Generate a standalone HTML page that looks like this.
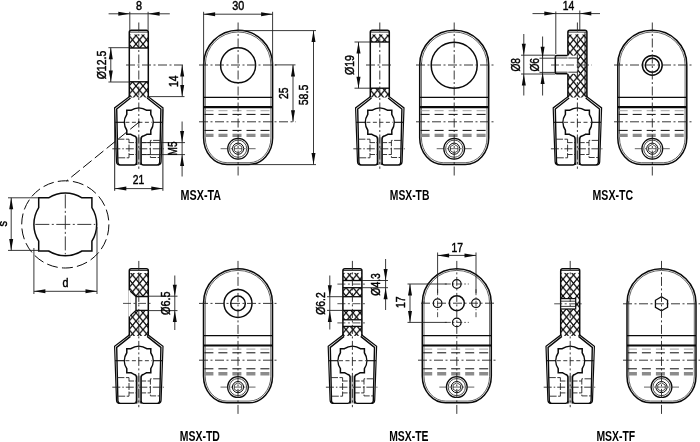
<!DOCTYPE html>
<html><head><meta charset="utf-8"><title>MSX-T</title>
<style>
html,body{margin:0;padding:0;background:#fff;}
svg{display:block;font-family:"Liberation Sans",sans-serif;fill:#000;filter:grayscale(1);}
svg text{fill:#000;}
</style></head>
<body>
<svg width="700" height="442" viewBox="0 0 700 442">
<rect width="700" height="442" fill="#fff"/>
<defs><pattern id="hx" width="7" height="8.4" patternUnits="userSpaceOnUse" patternTransform="translate(3 2)"><path d="M-1 -1.2 L8 9.6 M8 -1.2 L-1 9.6" stroke="#0a0a0a" stroke-width="1.3" fill="none"/></pattern></defs>
<rect x="129.30" y="34.50" width="19.00" height="13.50" fill="url(#hx)"/>
<rect x="129.30" y="81.80" width="19.00" height="15.70" fill="url(#hx)"/>
<path d="M129.3 97.2 L129.3 32.3 Q129.3 30.3 131.3 30.3 L146.3 30.3 Q148.3 30.3 148.3 32.3 L148.3 97.2" fill="none" stroke="#0a0a0a" stroke-width="1.5"/>
<line x1="129.30" y1="48.00" x2="148.30" y2="48.00" stroke="#0a0a0a" stroke-width="1.4"/>
<line x1="129.30" y1="81.80" x2="148.30" y2="81.80" stroke="#0a0a0a" stroke-width="1.4"/>
<line x1="129.30" y1="32.10" x2="148.30" y2="32.10" stroke="#0a0a0a" stroke-width="0.8"/>
<g transform="translate(138.80 122.30)">
<path d="M-9.5 -26.5 L-9.5 -25.6 L-24.2 -14.4 L-22.3 39.5 Q-22.1 42.7 -19.2 42.7" fill="none" stroke="#0a0a0a" stroke-width="1.2"/>
<path d="M9.5 -26.5 L9.5 -25.6 L24.2 -14.4 L22.3 39.5 Q22.1 42.7 19.2 42.7" fill="none" stroke="#0a0a0a" stroke-width="1.2"/>
<rect x="-2.3" y="15" width="4.6" height="27.7" fill="#b8b8b8"/>
<path d="M-2.3 42.7 L-2.3 16.6 Q-2.3 14.0 -5.10 13.47 L-5.10 13.47 A14.4 14.4 0 0 1 -7.96 12.00 L-12.0 12.0 L-12.0 7.96 A14.4 14.4 0 0 1 -12.0 -7.96 L-12.0 -12.0 L-7.96 -12.0 A14.4 14.4 0 0 1 7.96 -12.0 L12.0 -12.0 L12.0 -7.96 A14.4 14.4 0 0 1 12.0 7.96 L12.0 12.0 L7.96 12.0 A14.4 14.4 0 0 1 5.10 13.47 Q2.3 14.0 2.3 16.6 L2.3 42.7" fill="none" stroke="#0a0a0a" stroke-width="1.5"/>
<path d="M-8.3 -24.3 L-22.1 -13.3 L-20.9 40.0 Q-20.8 42.7 -18.3 42.7 L-4.8 42.7 Q-2.3 42.7 -2.3 40.4" fill="none" stroke="#0a0a0a" stroke-width="1.4"/>
<path d="M8.3 -24.3 L22.1 -13.3 L20.9 40.0 Q20.8 42.7 18.3 42.7 L4.8 42.7 Q2.3 42.7 2.3 40.4" fill="none" stroke="#0a0a0a" stroke-width="1.4"/>
<line x1="-23.60" y1="0.00" x2="-14.40" y2="0.00" stroke="#0a0a0a" stroke-width="1.1"/>
<line x1="14.40" y1="0.00" x2="23.60" y2="0.00" stroke="#0a0a0a" stroke-width="1.1"/>
<line x1="-13.40" y1="0.00" x2="13.40" y2="0.00" stroke="#222" stroke-width="0.9" stroke-dasharray="4 2.5"/>
<path d="M-21.4 16.9 L-9.8 16.9 L-9.8 35.5 L-21.2 35.5" fill="none" stroke="#222" stroke-width="0.9" stroke-dasharray="7 1.5"/>
<path d="M-9.8 20.3 L-2.3 20.3 M-9.8 32.2 L-2.3 32.2" fill="none" stroke="#222" stroke-width="0.9" stroke-dasharray="5 1.5"/>
<path d="M21.3 18.1 L11.6 18.1 L11.6 35.2 L21.1 35.2" fill="none" stroke="#222" stroke-width="0.9" stroke-dasharray="7 1.5"/>
<path d="M2.3 20.3 L11.6 20.3 M2.3 32.2 L11.6 32.2" fill="none" stroke="#222" stroke-width="0.9" stroke-dasharray="5 1.5"/>
<line x1="-26.50" y1="26.50" x2="25.00" y2="26.50" stroke="#222" stroke-width="0.9" stroke-dasharray="8 2 1.5 2"/>
</g>
<line x1="138.80" y1="22.50" x2="138.80" y2="168.80" stroke="#222" stroke-width="0.9" stroke-dasharray="9 2.5 2 2.5"/>
<line x1="108.60" y1="13.80" x2="169.80" y2="13.80" stroke="#222" stroke-width="0.9"/>
<line x1="129.80" y1="11.80" x2="129.80" y2="30.30" stroke="#222" stroke-width="0.9"/>
<line x1="148.10" y1="11.80" x2="148.10" y2="30.30" stroke="#222" stroke-width="0.9"/>
<polygon points="129.80,13.80 118.30,15.80 118.30,11.80" fill="#0a0a0a"/>
<polygon points="148.10,13.80 159.60,11.80 159.60,15.80" fill="#0a0a0a"/>
<text x="139.10" y="9.60" font-size="12.8" text-anchor="middle" font-weight="normal" stroke="#000" stroke-width="0.45" textLength="6" lengthAdjust="spacingAndGlyphs">8</text>
<line x1="108.40" y1="47.70" x2="129.30" y2="47.70" stroke="#222" stroke-width="0.9"/>
<line x1="108.40" y1="82.00" x2="129.30" y2="82.00" stroke="#222" stroke-width="0.9"/>
<line x1="110.80" y1="47.70" x2="110.80" y2="82.00" stroke="#222" stroke-width="0.9"/>
<polygon points="110.80,47.70 112.80,59.20 108.80,59.20" fill="#0a0a0a"/>
<polygon points="110.80,82.00 108.80,70.50 112.80,70.50" fill="#0a0a0a"/>
<text x="106.20" y="65.00" font-size="12.8" text-anchor="middle" font-weight="normal" stroke="#000" stroke-width="0.45" textLength="28.5" lengthAdjust="spacingAndGlyphs" transform="rotate(-90 106.20 65.00)">Ø12.5</text>
<line x1="126.00" y1="65.00" x2="184.50" y2="65.00" stroke="#222" stroke-width="0.9" stroke-dasharray="9 2.5 2 2.5"/>
<line x1="148.30" y1="96.60" x2="184.50" y2="96.60" stroke="#222" stroke-width="0.9"/>
<line x1="182.20" y1="65.00" x2="182.20" y2="96.60" stroke="#222" stroke-width="0.9"/>
<polygon points="182.20,65.00 184.20,76.50 180.20,76.50" fill="#0a0a0a"/>
<polygon points="182.20,96.60 180.20,85.10 184.20,85.10" fill="#0a0a0a"/>
<text x="178.10" y="81.30" font-size="12.8" text-anchor="middle" font-weight="normal" stroke="#000" stroke-width="0.45" textLength="11.5" lengthAdjust="spacingAndGlyphs" transform="rotate(-90 178.10 81.30)">14</text>
<line x1="141.80" y1="142.60" x2="185.00" y2="142.60" stroke="#222" stroke-width="0.9"/>
<line x1="141.80" y1="154.60" x2="185.00" y2="154.60" stroke="#222" stroke-width="0.9"/>
<line x1="182.10" y1="121.50" x2="182.10" y2="176.50" stroke="#222" stroke-width="0.9"/>
<polygon points="182.10,142.60 180.10,131.10 184.10,131.10" fill="#0a0a0a"/>
<polygon points="182.10,154.60 184.10,166.10 180.10,166.10" fill="#0a0a0a"/>
<text x="177.40" y="148.50" font-size="12.8" text-anchor="middle" font-weight="normal" stroke="#000" stroke-width="0.45" textLength="14" lengthAdjust="spacingAndGlyphs" transform="rotate(-90 177.40 148.50)">M5</text>
<line x1="114.70" y1="109.30" x2="114.70" y2="190.80" stroke="#222" stroke-width="1.0"/>
<line x1="162.90" y1="109.30" x2="162.90" y2="190.80" stroke="#222" stroke-width="1.0"/>
<line x1="114.80" y1="188.60" x2="162.80" y2="188.60" stroke="#222" stroke-width="0.9"/>
<polygon points="114.80,188.60 126.30,186.60 126.30,190.60" fill="#0a0a0a"/>
<polygon points="162.80,188.60 151.30,190.60 151.30,186.60" fill="#0a0a0a"/>
<text x="138.50" y="184.30" font-size="12.8" text-anchor="middle" font-weight="normal" stroke="#000" stroke-width="0.45" textLength="11.5" lengthAdjust="spacingAndGlyphs">21</text>
<g transform="translate(238.10 30.30)">
<rect x="-32.9" y="103.2" width="65.8" height="3.6" fill="#8a8a8a" opacity="0" />
<path d="M-34.5 34.5 A34.5 34.5 0 0 1 34.5 34.5 L34.5 107.6 A23.5 26.5 0 0 1 11.0 134.1 L-11.0 134.1 A23.5 26.5 0 0 1 -34.5 107.6 Z" fill="none" stroke="#0a0a0a" stroke-width="1.5"/>
<path d="M-32.8 32.5 L-32.8 34.5 A32.8 32.8 0 0 1 32.8 34.5 L32.8 107.6 A21.8 24.8 0 0 1 11.0 132.4 L-11.0 132.4 A21.8 24.8 0 0 1 -32.8 107.6 L-32.8 34.5" fill="none" stroke="#222" stroke-width="0.7"/>
<line x1="-34.50" y1="67.00" x2="34.50" y2="67.00" stroke="#0a0a0a" stroke-width="1.3"/>
<line x1="-34.50" y1="76.80" x2="34.50" y2="76.80" stroke="#0a0a0a" stroke-width="2.2"/>
<line x1="-33.60" y1="80.40" x2="33.50" y2="80.40" stroke="#999" stroke-width="0.9" stroke-dasharray="9 5"/>
<line x1="-33.60" y1="84.10" x2="33.50" y2="84.10" stroke="#0a0a0a" stroke-width="1.0" stroke-dasharray="9 5"/>
<line x1="-33.60" y1="100.10" x2="33.50" y2="100.10" stroke="#0a0a0a" stroke-width="1.0" stroke-dasharray="9 5"/>
<line x1="-33.60" y1="105.10" x2="33.50" y2="105.10" stroke="#8c8c8c" stroke-width="3.4" stroke-dasharray="9 5"/>
<circle cx="0.00" cy="118.40" r="10.40" fill="none" stroke="#0a0a0a" stroke-width="1.2"/>
<circle cx="0.00" cy="118.40" r="8.60" fill="none" stroke="#222" stroke-width="0.8"/>
<circle cx="0.00" cy="118.40" r="5.60" fill="none" stroke="#0a0a0a" stroke-width="1.0"/>
<polygon points="3.72,120.55 0.00,122.70 -3.72,120.55 -3.72,116.25 -0.00,114.10 3.72,116.25" fill="none" stroke="#222" stroke-width="0.8"/>
<line x1="-17.50" y1="118.40" x2="19.00" y2="118.40" stroke="#222" stroke-width="0.7" stroke-dasharray="8 2 1.5 2"/>
</g>
<circle cx="238.10" cy="65.30" r="17.50" fill="none" stroke="#0a0a0a" stroke-width="1.5"/>
<line x1="238.10" y1="22.50" x2="238.10" y2="178.00" stroke="#222" stroke-width="0.9" stroke-dasharray="9 2.5 2 2.5"/>
<line x1="199.00" y1="65.00" x2="279.00" y2="65.00" stroke="#222" stroke-width="0.9" stroke-dasharray="9 2.5 2 2.5"/>
<line x1="199.00" y1="121.80" x2="295.50" y2="121.80" stroke="#222" stroke-width="0.9" stroke-dasharray="9 2.5 2 2.5"/>
<line x1="203.60" y1="11.80" x2="203.60" y2="64.00" stroke="#222" stroke-width="0.9"/>
<line x1="272.60" y1="11.80" x2="272.60" y2="64.00" stroke="#222" stroke-width="0.9"/>
<line x1="203.60" y1="14.20" x2="272.60" y2="14.20" stroke="#222" stroke-width="0.9"/>
<polygon points="203.60,14.20 215.10,12.20 215.10,16.20" fill="#0a0a0a"/>
<polygon points="272.60,14.20 261.10,16.20 261.10,12.20" fill="#0a0a0a"/>
<text x="238.20" y="9.80" font-size="12.8" text-anchor="middle" font-weight="normal" stroke="#000" stroke-width="0.45" textLength="12" lengthAdjust="spacingAndGlyphs">30</text>
<line x1="275.00" y1="64.90" x2="295.50" y2="64.90" stroke="#222" stroke-width="0.9"/>
<line x1="293.00" y1="64.90" x2="293.00" y2="121.80" stroke="#222" stroke-width="0.9"/>
<polygon points="293.00,64.90 295.00,76.40 291.00,76.40" fill="#0a0a0a"/>
<polygon points="293.00,121.80 291.00,110.30 295.00,110.30" fill="#0a0a0a"/>
<text x="288.30" y="93.30" font-size="12.8" text-anchor="middle" font-weight="normal" stroke="#000" stroke-width="0.45" textLength="11.5" lengthAdjust="spacingAndGlyphs" transform="rotate(-90 288.30 93.30)">25</text>
<line x1="238.10" y1="30.60" x2="316.00" y2="30.60" stroke="#222" stroke-width="0.9"/>
<line x1="250.10" y1="164.60" x2="316.00" y2="164.60" stroke="#222" stroke-width="0.9"/>
<line x1="313.50" y1="30.60" x2="313.50" y2="164.60" stroke="#222" stroke-width="0.9"/>
<polygon points="313.50,30.60 315.50,42.10 311.50,42.10" fill="#0a0a0a"/>
<polygon points="313.50,164.60 311.50,153.10 315.50,153.10" fill="#0a0a0a"/>
<text x="308.20" y="95.00" font-size="12.8" text-anchor="middle" font-weight="normal" stroke="#000" stroke-width="0.45" textLength="20.6" lengthAdjust="spacingAndGlyphs" transform="rotate(-90 308.20 95.00)">58.5</text>
<circle cx="65.30" cy="224.40" r="43.60" fill="none" stroke="#0a0a0a" stroke-width="1.0" stroke-dasharray="11 4.2"/>
<path d="M48.61 197.80 A31.4 31.4 0 0 1 81.99 197.80 L91.9 197.8 L91.9 207.71 A31.4 31.4 0 0 1 91.9 241.09 L91.9 251.0 L81.99 251.0 A31.4 31.4 0 0 1 48.61 251.0 L38.699999999999996 251.0 L38.699999999999996 241.09 A31.4 31.4 0 0 1 38.699999999999996 207.71 L38.699999999999996 197.8 Z" fill="none" stroke="#0a0a0a" stroke-width="1.5"/>
<line x1="35.30" y1="224.40" x2="95.30" y2="224.40" stroke="#222" stroke-width="0.9" stroke-dasharray="14 2.5 2 2.5"/>
<line x1="65.30" y1="194.40" x2="65.30" y2="254.40" stroke="#222" stroke-width="0.9" stroke-dasharray="14 2.5 2 2.5"/>
<line x1="8.00" y1="197.80" x2="38.70" y2="197.80" stroke="#222" stroke-width="0.9"/>
<line x1="8.00" y1="250.40" x2="38.70" y2="250.40" stroke="#222" stroke-width="0.9"/>
<line x1="11.20" y1="197.80" x2="11.20" y2="250.40" stroke="#222" stroke-width="0.9"/>
<polygon points="11.20,197.80 13.20,209.30 9.20,209.30" fill="#0a0a0a"/>
<polygon points="11.20,250.40 9.20,238.90 13.20,238.90" fill="#0a0a0a"/>
<text x="6.60" y="223.80" font-size="12.8" text-anchor="middle" font-weight="normal" stroke="#000" stroke-width="0.45" textLength="5.5" lengthAdjust="spacingAndGlyphs" transform="rotate(-90 6.60 223.80)">s</text>
<line x1="33.90" y1="248.00" x2="33.90" y2="294.00" stroke="#222" stroke-width="0.9"/>
<line x1="97.00" y1="227.00" x2="97.00" y2="294.00" stroke="#222" stroke-width="0.9"/>
<line x1="33.90" y1="291.30" x2="97.00" y2="291.30" stroke="#222" stroke-width="0.9"/>
<polygon points="33.90,291.30 45.40,289.30 45.40,293.30" fill="#0a0a0a"/>
<polygon points="97.00,291.30 85.50,293.30 85.50,289.30" fill="#0a0a0a"/>
<text x="65.50" y="287.00" font-size="12.8" text-anchor="middle" font-weight="normal" stroke="#000" stroke-width="0.45" textLength="6" lengthAdjust="spacingAndGlyphs">d</text>
<line x1="138.80" y1="122.30" x2="66.50" y2="181.00" stroke="#0a0a0a" stroke-width="1.0" stroke-dasharray="11 4.2"/>
<circle cx="138.80" cy="122.30" r="1.00" fill="#0a0a0a" stroke="#0a0a0a" stroke-width="0"/>
<rect x="370.30" y="34.50" width="19.00" height="7.50" fill="url(#hx)"/>
<rect x="370.30" y="88.20" width="19.00" height="9.30" fill="url(#hx)"/>
<path d="M370.3 97.2 L370.3 32.3 Q370.3 30.3 372.3 30.3 L387.3 30.3 Q389.3 30.3 389.3 32.3 L389.3 97.2" fill="none" stroke="#0a0a0a" stroke-width="1.5"/>
<line x1="370.30" y1="42.00" x2="389.30" y2="42.00" stroke="#0a0a0a" stroke-width="1.4"/>
<line x1="370.30" y1="88.20" x2="389.30" y2="88.20" stroke="#0a0a0a" stroke-width="1.4"/>
<line x1="370.30" y1="32.10" x2="389.30" y2="32.10" stroke="#0a0a0a" stroke-width="0.8"/>
<g transform="translate(379.80 122.30)">
<path d="M-9.5 -26.5 L-9.5 -25.6 L-24.2 -14.4 L-22.3 39.5 Q-22.1 42.7 -19.2 42.7" fill="none" stroke="#0a0a0a" stroke-width="1.2"/>
<path d="M9.5 -26.5 L9.5 -25.6 L24.2 -14.4 L22.3 39.5 Q22.1 42.7 19.2 42.7" fill="none" stroke="#0a0a0a" stroke-width="1.2"/>
<rect x="-2.3" y="15" width="4.6" height="27.7" fill="#b8b8b8"/>
<path d="M-2.3 42.7 L-2.3 16.6 Q-2.3 14.0 -5.10 13.47 L-5.10 13.47 A14.4 14.4 0 0 1 -7.96 12.00 L-12.0 12.0 L-12.0 7.96 A14.4 14.4 0 0 1 -12.0 -7.96 L-12.0 -12.0 L-7.96 -12.0 A14.4 14.4 0 0 1 7.96 -12.0 L12.0 -12.0 L12.0 -7.96 A14.4 14.4 0 0 1 12.0 7.96 L12.0 12.0 L7.96 12.0 A14.4 14.4 0 0 1 5.10 13.47 Q2.3 14.0 2.3 16.6 L2.3 42.7" fill="none" stroke="#0a0a0a" stroke-width="1.5"/>
<path d="M-8.3 -24.3 L-22.1 -13.3 L-20.9 40.0 Q-20.8 42.7 -18.3 42.7 L-4.8 42.7 Q-2.3 42.7 -2.3 40.4" fill="none" stroke="#0a0a0a" stroke-width="1.4"/>
<path d="M8.3 -24.3 L22.1 -13.3 L20.9 40.0 Q20.8 42.7 18.3 42.7 L4.8 42.7 Q2.3 42.7 2.3 40.4" fill="none" stroke="#0a0a0a" stroke-width="1.4"/>
<line x1="-23.60" y1="0.00" x2="-14.40" y2="0.00" stroke="#0a0a0a" stroke-width="1.1"/>
<line x1="14.40" y1="0.00" x2="23.60" y2="0.00" stroke="#0a0a0a" stroke-width="1.1"/>
<line x1="-13.40" y1="0.00" x2="13.40" y2="0.00" stroke="#222" stroke-width="0.9" stroke-dasharray="4 2.5"/>
<path d="M-21.4 16.9 L-9.8 16.9 L-9.8 35.5 L-21.2 35.5" fill="none" stroke="#222" stroke-width="0.9" stroke-dasharray="7 1.5"/>
<path d="M-9.8 20.3 L-2.3 20.3 M-9.8 32.2 L-2.3 32.2" fill="none" stroke="#222" stroke-width="0.9" stroke-dasharray="5 1.5"/>
<path d="M21.3 18.1 L11.6 18.1 L11.6 35.2 L21.1 35.2" fill="none" stroke="#222" stroke-width="0.9" stroke-dasharray="7 1.5"/>
<path d="M2.3 20.3 L11.6 20.3 M2.3 32.2 L11.6 32.2" fill="none" stroke="#222" stroke-width="0.9" stroke-dasharray="5 1.5"/>
<line x1="-26.50" y1="26.50" x2="25.00" y2="26.50" stroke="#222" stroke-width="0.9" stroke-dasharray="8 2 1.5 2"/>
</g>
<line x1="379.80" y1="22.50" x2="379.80" y2="168.80" stroke="#222" stroke-width="0.9" stroke-dasharray="9 2.5 2 2.5"/>
<line x1="366.00" y1="65.00" x2="393.00" y2="65.00" stroke="#222" stroke-width="0.9" stroke-dasharray="9 2.5 2 2.5"/>
<line x1="354.50" y1="42.00" x2="370.30" y2="42.00" stroke="#222" stroke-width="0.9"/>
<line x1="354.50" y1="88.20" x2="370.30" y2="88.20" stroke="#222" stroke-width="0.9"/>
<line x1="358.50" y1="42.00" x2="358.50" y2="88.20" stroke="#222" stroke-width="0.9"/>
<polygon points="358.50,42.00 360.50,53.50 356.50,53.50" fill="#0a0a0a"/>
<polygon points="358.50,88.20 356.50,76.70 360.50,76.70" fill="#0a0a0a"/>
<text x="354.00" y="65.00" font-size="12.8" text-anchor="middle" font-weight="normal" stroke="#000" stroke-width="0.45" textLength="20" lengthAdjust="spacingAndGlyphs" transform="rotate(-90 354.00 65.00)">Ø19</text>
<g transform="translate(454.20 30.30)">
<rect x="-32.9" y="103.2" width="65.8" height="3.6" fill="#8a8a8a" opacity="0" />
<path d="M-34.5 34.5 A34.5 34.5 0 0 1 34.5 34.5 L34.5 107.6 A23.5 26.5 0 0 1 11.0 134.1 L-11.0 134.1 A23.5 26.5 0 0 1 -34.5 107.6 Z" fill="none" stroke="#0a0a0a" stroke-width="1.5"/>
<path d="M-32.8 32.5 L-32.8 34.5 A32.8 32.8 0 0 1 32.8 34.5 L32.8 107.6 A21.8 24.8 0 0 1 11.0 132.4 L-11.0 132.4 A21.8 24.8 0 0 1 -32.8 107.6 L-32.8 34.5" fill="none" stroke="#222" stroke-width="0.7"/>
<line x1="-34.50" y1="67.00" x2="34.50" y2="67.00" stroke="#0a0a0a" stroke-width="1.3"/>
<line x1="-34.50" y1="76.80" x2="34.50" y2="76.80" stroke="#0a0a0a" stroke-width="2.2"/>
<line x1="-33.60" y1="80.40" x2="33.50" y2="80.40" stroke="#999" stroke-width="0.9" stroke-dasharray="9 5"/>
<line x1="-33.60" y1="84.10" x2="33.50" y2="84.10" stroke="#0a0a0a" stroke-width="1.0" stroke-dasharray="9 5"/>
<line x1="-33.60" y1="100.10" x2="33.50" y2="100.10" stroke="#0a0a0a" stroke-width="1.0" stroke-dasharray="9 5"/>
<line x1="-33.60" y1="105.10" x2="33.50" y2="105.10" stroke="#8c8c8c" stroke-width="3.4" stroke-dasharray="9 5"/>
<circle cx="0.00" cy="118.40" r="10.40" fill="none" stroke="#0a0a0a" stroke-width="1.2"/>
<circle cx="0.00" cy="118.40" r="8.60" fill="none" stroke="#222" stroke-width="0.8"/>
<circle cx="0.00" cy="118.40" r="5.60" fill="none" stroke="#0a0a0a" stroke-width="1.0"/>
<polygon points="3.72,120.55 0.00,122.70 -3.72,120.55 -3.72,116.25 -0.00,114.10 3.72,116.25" fill="none" stroke="#222" stroke-width="0.8"/>
<line x1="-17.50" y1="118.40" x2="19.00" y2="118.40" stroke="#222" stroke-width="0.7" stroke-dasharray="8 2 1.5 2"/>
</g>
<circle cx="454.20" cy="65.30" r="23.00" fill="none" stroke="#0a0a0a" stroke-width="1.5"/>
<line x1="454.20" y1="22.50" x2="454.20" y2="178.00" stroke="#222" stroke-width="0.9" stroke-dasharray="9 2.5 2 2.5"/>
<line x1="416.00" y1="65.00" x2="494.00" y2="65.00" stroke="#222" stroke-width="0.9" stroke-dasharray="9 2.5 2 2.5"/>
<line x1="416.00" y1="121.80" x2="494.00" y2="121.80" stroke="#222" stroke-width="0.9" stroke-dasharray="9 2.5 2 2.5"/>
<rect x="567.90" y="34.50" width="19.00" height="63.00" fill="url(#hx)"/>
<path d="M567.9 97.2 L567.9 32.3 Q567.9 30.3 569.9 30.3 L584.9 30.3 Q586.9 30.3 586.9 32.3 L586.9 97.2" fill="none" stroke="#0a0a0a" stroke-width="1.5"/>
<line x1="567.90" y1="32.10" x2="586.90" y2="32.10" stroke="#0a0a0a" stroke-width="0.8"/>
<line x1="585.00" y1="32.30" x2="585.00" y2="96.00" stroke="#0a0a0a" stroke-width="0.8"/>
<rect x="555.3" y="55.6" width="22.60" height="18.2" fill="#fff"/>
<path d="M567.9 55.6 L556.8 55.6 Q555.3 55.6 555.3 57.1 L555.3 72.3 Q555.3 73.8 556.8 73.8 L567.9 73.8" fill="none" stroke="#0a0a0a" stroke-width="1.5"/>
<line x1="555.30" y1="58.00" x2="577.40" y2="58.00" stroke="#0a0a0a" stroke-width="0.8"/>
<line x1="555.30" y1="72.20" x2="577.40" y2="72.20" stroke="#0a0a0a" stroke-width="0.8"/>
<line x1="577.90" y1="58.00" x2="577.90" y2="72.20" stroke="#0a0a0a" stroke-width="0.8"/>
<line x1="567.90" y1="55.60" x2="567.90" y2="73.80" stroke="#fff" stroke-width="0.8"/>
<g transform="translate(577.40 122.30)">
<path d="M-9.5 -26.5 L-9.5 -25.6 L-24.2 -14.4 L-22.3 39.5 Q-22.1 42.7 -19.2 42.7" fill="none" stroke="#0a0a0a" stroke-width="1.2"/>
<path d="M9.5 -26.5 L9.5 -25.6 L24.2 -14.4 L22.3 39.5 Q22.1 42.7 19.2 42.7" fill="none" stroke="#0a0a0a" stroke-width="1.2"/>
<rect x="-2.3" y="15" width="4.6" height="27.7" fill="#b8b8b8"/>
<path d="M-2.3 42.7 L-2.3 16.6 Q-2.3 14.0 -5.10 13.47 L-5.10 13.47 A14.4 14.4 0 0 1 -7.96 12.00 L-12.0 12.0 L-12.0 7.96 A14.4 14.4 0 0 1 -12.0 -7.96 L-12.0 -12.0 L-7.96 -12.0 A14.4 14.4 0 0 1 7.96 -12.0 L12.0 -12.0 L12.0 -7.96 A14.4 14.4 0 0 1 12.0 7.96 L12.0 12.0 L7.96 12.0 A14.4 14.4 0 0 1 5.10 13.47 Q2.3 14.0 2.3 16.6 L2.3 42.7" fill="none" stroke="#0a0a0a" stroke-width="1.5"/>
<path d="M-8.3 -24.3 L-22.1 -13.3 L-20.9 40.0 Q-20.8 42.7 -18.3 42.7 L-4.8 42.7 Q-2.3 42.7 -2.3 40.4" fill="none" stroke="#0a0a0a" stroke-width="1.4"/>
<path d="M8.3 -24.3 L22.1 -13.3 L20.9 40.0 Q20.8 42.7 18.3 42.7 L4.8 42.7 Q2.3 42.7 2.3 40.4" fill="none" stroke="#0a0a0a" stroke-width="1.4"/>
<line x1="-23.60" y1="0.00" x2="-14.40" y2="0.00" stroke="#0a0a0a" stroke-width="1.1"/>
<line x1="14.40" y1="0.00" x2="23.60" y2="0.00" stroke="#0a0a0a" stroke-width="1.1"/>
<line x1="-13.40" y1="0.00" x2="13.40" y2="0.00" stroke="#222" stroke-width="0.9" stroke-dasharray="4 2.5"/>
<path d="M-21.4 16.9 L-9.8 16.9 L-9.8 35.5 L-21.2 35.5" fill="none" stroke="#222" stroke-width="0.9" stroke-dasharray="7 1.5"/>
<path d="M-9.8 20.3 L-2.3 20.3 M-9.8 32.2 L-2.3 32.2" fill="none" stroke="#222" stroke-width="0.9" stroke-dasharray="5 1.5"/>
<path d="M21.3 18.1 L11.6 18.1 L11.6 35.2 L21.1 35.2" fill="none" stroke="#222" stroke-width="0.9" stroke-dasharray="7 1.5"/>
<path d="M2.3 20.3 L11.6 20.3 M2.3 32.2 L11.6 32.2" fill="none" stroke="#222" stroke-width="0.9" stroke-dasharray="5 1.5"/>
<line x1="-26.50" y1="26.50" x2="25.00" y2="26.50" stroke="#222" stroke-width="0.9" stroke-dasharray="8 2 1.5 2"/>
</g>
<line x1="577.40" y1="22.50" x2="577.40" y2="168.80" stroke="#222" stroke-width="0.9" stroke-dasharray="9 2.5 2 2.5"/>
<line x1="551.00" y1="65.00" x2="592.00" y2="65.00" stroke="#222" stroke-width="0.8" stroke-dasharray="8 2.5 2 2.5"/>
<line x1="532.50" y1="13.60" x2="600.00" y2="13.60" stroke="#222" stroke-width="0.9"/>
<line x1="555.80" y1="11.50" x2="555.80" y2="54.00" stroke="#222" stroke-width="0.9"/>
<line x1="579.80" y1="10.50" x2="579.80" y2="30.30" stroke="#222" stroke-width="0.9"/>
<polygon points="555.80,13.60 544.30,15.60 544.30,11.60" fill="#0a0a0a"/>
<polygon points="579.80,13.60 591.30,11.60 591.30,15.60" fill="#0a0a0a"/>
<text x="568.40" y="9.80" font-size="12.8" text-anchor="middle" font-weight="normal" stroke="#000" stroke-width="0.45" textLength="11.5" lengthAdjust="spacingAndGlyphs">14</text>
<line x1="521.00" y1="55.20" x2="555.30" y2="55.20" stroke="#222" stroke-width="0.9"/>
<line x1="521.00" y1="74.00" x2="555.30" y2="74.00" stroke="#222" stroke-width="0.9"/>
<line x1="539.50" y1="58.20" x2="555.30" y2="58.20" stroke="#222" stroke-width="0.9"/>
<line x1="539.50" y1="72.40" x2="555.30" y2="72.40" stroke="#222" stroke-width="0.9"/>
<line x1="523.80" y1="34.00" x2="523.80" y2="95.50" stroke="#222" stroke-width="0.9"/>
<line x1="542.60" y1="36.50" x2="542.60" y2="95.50" stroke="#222" stroke-width="0.9"/>
<polygon points="523.80,55.20 521.80,43.70 525.80,43.70" fill="#0a0a0a"/>
<polygon points="523.80,74.00 525.80,85.50 521.80,85.50" fill="#0a0a0a"/>
<polygon points="542.60,58.20 540.60,46.70 544.60,46.70" fill="#0a0a0a"/>
<polygon points="542.60,72.40 544.60,83.90 540.60,83.90" fill="#0a0a0a"/>
<text x="519.60" y="64.80" font-size="12.8" text-anchor="middle" font-weight="normal" stroke="#000" stroke-width="0.45" textLength="13.5" lengthAdjust="spacingAndGlyphs" transform="rotate(-90 519.60 64.80)">Ø8</text>
<text x="538.60" y="64.80" font-size="12.8" text-anchor="middle" font-weight="normal" stroke="#000" stroke-width="0.45" textLength="13.5" lengthAdjust="spacingAndGlyphs" transform="rotate(-90 538.60 64.80)">Ø6</text>
<g transform="translate(652.30 30.30)">
<rect x="-32.9" y="103.2" width="65.8" height="3.6" fill="#8a8a8a" opacity="0" />
<path d="M-34.5 34.5 A34.5 34.5 0 0 1 34.5 34.5 L34.5 107.6 A23.5 26.5 0 0 1 11.0 134.1 L-11.0 134.1 A23.5 26.5 0 0 1 -34.5 107.6 Z" fill="none" stroke="#0a0a0a" stroke-width="1.5"/>
<path d="M-32.8 32.5 L-32.8 34.5 A32.8 32.8 0 0 1 32.8 34.5 L32.8 107.6 A21.8 24.8 0 0 1 11.0 132.4 L-11.0 132.4 A21.8 24.8 0 0 1 -32.8 107.6 L-32.8 34.5" fill="none" stroke="#222" stroke-width="0.7"/>
<line x1="-34.50" y1="67.00" x2="34.50" y2="67.00" stroke="#0a0a0a" stroke-width="1.3"/>
<line x1="-34.50" y1="76.80" x2="34.50" y2="76.80" stroke="#0a0a0a" stroke-width="2.2"/>
<line x1="-33.60" y1="80.40" x2="33.50" y2="80.40" stroke="#999" stroke-width="0.9" stroke-dasharray="9 5"/>
<line x1="-33.60" y1="84.10" x2="33.50" y2="84.10" stroke="#0a0a0a" stroke-width="1.0" stroke-dasharray="9 5"/>
<line x1="-33.60" y1="100.10" x2="33.50" y2="100.10" stroke="#0a0a0a" stroke-width="1.0" stroke-dasharray="9 5"/>
<line x1="-33.60" y1="105.10" x2="33.50" y2="105.10" stroke="#8c8c8c" stroke-width="3.4" stroke-dasharray="9 5"/>
<circle cx="0.00" cy="118.40" r="10.40" fill="none" stroke="#0a0a0a" stroke-width="1.2"/>
<circle cx="0.00" cy="118.40" r="8.60" fill="none" stroke="#222" stroke-width="0.8"/>
<circle cx="0.00" cy="118.40" r="5.60" fill="none" stroke="#0a0a0a" stroke-width="1.0"/>
<polygon points="3.72,120.55 0.00,122.70 -3.72,120.55 -3.72,116.25 -0.00,114.10 3.72,116.25" fill="none" stroke="#222" stroke-width="0.8"/>
<line x1="-17.50" y1="118.40" x2="19.00" y2="118.40" stroke="#222" stroke-width="0.7" stroke-dasharray="8 2 1.5 2"/>
</g>
<circle cx="652.30" cy="65.30" r="9.90" fill="none" stroke="#0a0a0a" stroke-width="1.5"/>
<circle cx="652.30" cy="65.30" r="7.00" fill="none" stroke="#0a0a0a" stroke-width="1.5"/>
<line x1="652.30" y1="22.50" x2="652.30" y2="178.00" stroke="#222" stroke-width="0.9" stroke-dasharray="9 2.5 2 2.5"/>
<line x1="614.00" y1="65.00" x2="692.00" y2="65.00" stroke="#222" stroke-width="0.9" stroke-dasharray="9 2.5 2 2.5"/>
<line x1="614.00" y1="121.80" x2="692.00" y2="121.80" stroke="#222" stroke-width="0.9" stroke-dasharray="9 2.5 2 2.5"/>
<path d="M129.3 272.9 L148.3 272.9 L148.3 296.5 L136.0 296.5 L129.3 290.2 Z M129.3 316.59999999999997 L136.0 310.29999999999995 L148.3 310.29999999999995 L148.3 335.9 L129.3 335.9 Z" fill="url(#hx)" stroke="none" stroke-width="0"/>
<path d="M129.3 335.6 L129.3 270.7 Q129.3 268.7 131.3 268.7 L146.3 268.7 Q148.3 268.7 148.3 270.7 L148.3 335.6" fill="none" stroke="#0a0a0a" stroke-width="1.5"/>
<line x1="129.30" y1="270.50" x2="148.30" y2="270.50" stroke="#0a0a0a" stroke-width="0.8"/>
<path d="M129.3 290.2 L136.0 296.5 L148.3 296.5 M129.3 316.59999999999997 L136.0 310.29999999999995 L148.3 310.29999999999995 M136.0 296.5 L136.0 310.29999999999995" fill="none" stroke="#0a0a0a" stroke-width="1.3"/>
<line x1="129.30" y1="290.40" x2="129.30" y2="316.40" stroke="#fff" stroke-width="1.6"/>
<g transform="translate(138.80 360.70)">
<path d="M-9.5 -26.5 L-9.5 -25.6 L-24.2 -14.4 L-22.3 39.5 Q-22.1 42.7 -19.2 42.7" fill="none" stroke="#0a0a0a" stroke-width="1.2"/>
<path d="M9.5 -26.5 L9.5 -25.6 L24.2 -14.4 L22.3 39.5 Q22.1 42.7 19.2 42.7" fill="none" stroke="#0a0a0a" stroke-width="1.2"/>
<rect x="-2.3" y="15" width="4.6" height="27.7" fill="#b8b8b8"/>
<path d="M-2.3 42.7 L-2.3 16.6 Q-2.3 14.0 -5.10 13.47 L-5.10 13.47 A14.4 14.4 0 0 1 -7.96 12.00 L-12.0 12.0 L-12.0 7.96 A14.4 14.4 0 0 1 -12.0 -7.96 L-12.0 -12.0 L-7.96 -12.0 A14.4 14.4 0 0 1 7.96 -12.0 L12.0 -12.0 L12.0 -7.96 A14.4 14.4 0 0 1 12.0 7.96 L12.0 12.0 L7.96 12.0 A14.4 14.4 0 0 1 5.10 13.47 Q2.3 14.0 2.3 16.6 L2.3 42.7" fill="none" stroke="#0a0a0a" stroke-width="1.5"/>
<path d="M-8.3 -24.3 L-22.1 -13.3 L-20.9 40.0 Q-20.8 42.7 -18.3 42.7 L-4.8 42.7 Q-2.3 42.7 -2.3 40.4" fill="none" stroke="#0a0a0a" stroke-width="1.4"/>
<path d="M8.3 -24.3 L22.1 -13.3 L20.9 40.0 Q20.8 42.7 18.3 42.7 L4.8 42.7 Q2.3 42.7 2.3 40.4" fill="none" stroke="#0a0a0a" stroke-width="1.4"/>
<line x1="-23.60" y1="0.00" x2="-14.40" y2="0.00" stroke="#0a0a0a" stroke-width="1.1"/>
<line x1="14.40" y1="0.00" x2="23.60" y2="0.00" stroke="#0a0a0a" stroke-width="1.1"/>
<line x1="-13.40" y1="0.00" x2="13.40" y2="0.00" stroke="#222" stroke-width="0.9" stroke-dasharray="4 2.5"/>
<path d="M-21.4 16.9 L-9.8 16.9 L-9.8 35.5 L-21.2 35.5" fill="none" stroke="#222" stroke-width="0.9" stroke-dasharray="7 1.5"/>
<path d="M-9.8 20.3 L-2.3 20.3 M-9.8 32.2 L-2.3 32.2" fill="none" stroke="#222" stroke-width="0.9" stroke-dasharray="5 1.5"/>
<path d="M21.3 18.1 L11.6 18.1 L11.6 35.2 L21.1 35.2" fill="none" stroke="#222" stroke-width="0.9" stroke-dasharray="7 1.5"/>
<path d="M2.3 20.3 L11.6 20.3 M2.3 32.2 L11.6 32.2" fill="none" stroke="#222" stroke-width="0.9" stroke-dasharray="5 1.5"/>
<line x1="-26.50" y1="26.50" x2="25.00" y2="26.50" stroke="#222" stroke-width="0.9" stroke-dasharray="8 2 1.5 2"/>
</g>
<line x1="138.80" y1="260.90" x2="138.80" y2="407.20" stroke="#222" stroke-width="0.9" stroke-dasharray="9 2.5 2 2.5"/>
<line x1="123.00" y1="303.40" x2="152.00" y2="303.40" stroke="#222" stroke-width="0.8" stroke-dasharray="8 2.5 2 2.5"/>
<line x1="148.30" y1="296.20" x2="177.50" y2="296.20" stroke="#222" stroke-width="0.9"/>
<line x1="148.30" y1="310.60" x2="177.50" y2="310.60" stroke="#222" stroke-width="0.9"/>
<line x1="174.80" y1="275.50" x2="174.80" y2="330.00" stroke="#222" stroke-width="0.9"/>
<polygon points="174.80,296.20 172.80,284.70 176.80,284.70" fill="#0a0a0a"/>
<polygon points="174.80,310.60 176.80,322.10 172.80,322.10" fill="#0a0a0a"/>
<text x="169.80" y="303.30" font-size="12.8" text-anchor="middle" font-weight="normal" stroke="#000" stroke-width="0.45" textLength="23.5" lengthAdjust="spacingAndGlyphs" transform="rotate(-90 169.80 303.30)">Ø6.5</text>
<g transform="translate(238.00 268.70)">
<rect x="-32.9" y="103.2" width="65.8" height="3.6" fill="#8a8a8a" opacity="0" />
<path d="M-34.5 34.5 A34.5 34.5 0 0 1 34.5 34.5 L34.5 107.6 A23.5 26.5 0 0 1 11.0 134.1 L-11.0 134.1 A23.5 26.5 0 0 1 -34.5 107.6 Z" fill="none" stroke="#0a0a0a" stroke-width="1.5"/>
<path d="M-32.8 32.5 L-32.8 34.5 A32.8 32.8 0 0 1 32.8 34.5 L32.8 107.6 A21.8 24.8 0 0 1 11.0 132.4 L-11.0 132.4 A21.8 24.8 0 0 1 -32.8 107.6 L-32.8 34.5" fill="none" stroke="#222" stroke-width="0.7"/>
<line x1="-34.50" y1="67.00" x2="34.50" y2="67.00" stroke="#0a0a0a" stroke-width="1.3"/>
<line x1="-34.50" y1="76.80" x2="34.50" y2="76.80" stroke="#0a0a0a" stroke-width="2.2"/>
<line x1="-33.60" y1="80.40" x2="33.50" y2="80.40" stroke="#999" stroke-width="0.9" stroke-dasharray="9 5"/>
<line x1="-33.60" y1="84.10" x2="33.50" y2="84.10" stroke="#0a0a0a" stroke-width="1.0" stroke-dasharray="9 5"/>
<line x1="-33.60" y1="100.10" x2="33.50" y2="100.10" stroke="#0a0a0a" stroke-width="1.0" stroke-dasharray="9 5"/>
<line x1="-33.60" y1="105.10" x2="33.50" y2="105.10" stroke="#8c8c8c" stroke-width="3.4" stroke-dasharray="9 5"/>
<circle cx="0.00" cy="118.40" r="10.40" fill="none" stroke="#0a0a0a" stroke-width="1.2"/>
<circle cx="0.00" cy="118.40" r="8.60" fill="none" stroke="#222" stroke-width="0.8"/>
<circle cx="0.00" cy="118.40" r="5.60" fill="none" stroke="#0a0a0a" stroke-width="1.0"/>
<polygon points="3.72,120.55 0.00,122.70 -3.72,120.55 -3.72,116.25 -0.00,114.10 3.72,116.25" fill="none" stroke="#222" stroke-width="0.8"/>
<line x1="-17.50" y1="118.40" x2="19.00" y2="118.40" stroke="#222" stroke-width="0.7" stroke-dasharray="8 2 1.5 2"/>
</g>
<circle cx="238.00" cy="303.40" r="14.00" fill="none" stroke="#0a0a0a" stroke-width="1.5"/>
<circle cx="238.00" cy="303.40" r="7.30" fill="none" stroke="#0a0a0a" stroke-width="1.5"/>
<line x1="238.00" y1="260.90" x2="238.00" y2="416.40" stroke="#222" stroke-width="0.9" stroke-dasharray="9 2.5 2 2.5"/>
<line x1="199.00" y1="303.40" x2="277.00" y2="303.40" stroke="#222" stroke-width="0.9" stroke-dasharray="9 2.5 2 2.5"/>
<line x1="199.00" y1="360.20" x2="277.00" y2="360.20" stroke="#222" stroke-width="0.9" stroke-dasharray="9 2.5 2 2.5"/>
<rect x="342.90" y="272.90" width="19.00" height="7.60" fill="url(#hx)"/>
<rect x="342.90" y="287.70" width="19.00" height="9.00" fill="url(#hx)"/>
<rect x="342.90" y="310.40" width="19.00" height="9.40" fill="url(#hx)"/>
<rect x="342.90" y="326.40" width="19.00" height="9.50" fill="url(#hx)"/>
<path d="M342.9 335.6 L342.9 270.7 Q342.9 268.7 344.9 268.7 L359.9 268.7 Q361.9 268.7 361.9 270.7 L361.9 335.6" fill="none" stroke="#0a0a0a" stroke-width="1.5"/>
<line x1="342.90" y1="270.50" x2="361.90" y2="270.50" stroke="#0a0a0a" stroke-width="0.8"/>
<line x1="342.90" y1="280.50" x2="361.90" y2="280.50" stroke="#0a0a0a" stroke-width="1.3"/>
<line x1="342.90" y1="287.70" x2="361.90" y2="287.70" stroke="#0a0a0a" stroke-width="1.3"/>
<line x1="342.90" y1="296.70" x2="361.90" y2="296.70" stroke="#0a0a0a" stroke-width="1.3"/>
<line x1="342.90" y1="310.40" x2="361.90" y2="310.40" stroke="#0a0a0a" stroke-width="1.3"/>
<line x1="342.90" y1="319.80" x2="361.90" y2="319.80" stroke="#0a0a0a" stroke-width="1.3"/>
<line x1="342.90" y1="326.40" x2="361.90" y2="326.40" stroke="#0a0a0a" stroke-width="1.3"/>
<g transform="translate(352.40 360.70)">
<path d="M-9.5 -26.5 L-9.5 -25.6 L-24.2 -14.4 L-22.3 39.5 Q-22.1 42.7 -19.2 42.7" fill="none" stroke="#0a0a0a" stroke-width="1.2"/>
<path d="M9.5 -26.5 L9.5 -25.6 L24.2 -14.4 L22.3 39.5 Q22.1 42.7 19.2 42.7" fill="none" stroke="#0a0a0a" stroke-width="1.2"/>
<rect x="-2.3" y="15" width="4.6" height="27.7" fill="#b8b8b8"/>
<path d="M-2.3 42.7 L-2.3 16.6 Q-2.3 14.0 -5.10 13.47 L-5.10 13.47 A14.4 14.4 0 0 1 -7.96 12.00 L-12.0 12.0 L-12.0 7.96 A14.4 14.4 0 0 1 -12.0 -7.96 L-12.0 -12.0 L-7.96 -12.0 A14.4 14.4 0 0 1 7.96 -12.0 L12.0 -12.0 L12.0 -7.96 A14.4 14.4 0 0 1 12.0 7.96 L12.0 12.0 L7.96 12.0 A14.4 14.4 0 0 1 5.10 13.47 Q2.3 14.0 2.3 16.6 L2.3 42.7" fill="none" stroke="#0a0a0a" stroke-width="1.5"/>
<path d="M-8.3 -24.3 L-22.1 -13.3 L-20.9 40.0 Q-20.8 42.7 -18.3 42.7 L-4.8 42.7 Q-2.3 42.7 -2.3 40.4" fill="none" stroke="#0a0a0a" stroke-width="1.4"/>
<path d="M8.3 -24.3 L22.1 -13.3 L20.9 40.0 Q20.8 42.7 18.3 42.7 L4.8 42.7 Q2.3 42.7 2.3 40.4" fill="none" stroke="#0a0a0a" stroke-width="1.4"/>
<line x1="-23.60" y1="0.00" x2="-14.40" y2="0.00" stroke="#0a0a0a" stroke-width="1.1"/>
<line x1="14.40" y1="0.00" x2="23.60" y2="0.00" stroke="#0a0a0a" stroke-width="1.1"/>
<line x1="-13.40" y1="0.00" x2="13.40" y2="0.00" stroke="#222" stroke-width="0.9" stroke-dasharray="4 2.5"/>
<path d="M-21.4 16.9 L-9.8 16.9 L-9.8 35.5 L-21.2 35.5" fill="none" stroke="#222" stroke-width="0.9" stroke-dasharray="7 1.5"/>
<path d="M-9.8 20.3 L-2.3 20.3 M-9.8 32.2 L-2.3 32.2" fill="none" stroke="#222" stroke-width="0.9" stroke-dasharray="5 1.5"/>
<path d="M21.3 18.1 L11.6 18.1 L11.6 35.2 L21.1 35.2" fill="none" stroke="#222" stroke-width="0.9" stroke-dasharray="7 1.5"/>
<path d="M2.3 20.3 L11.6 20.3 M2.3 32.2 L11.6 32.2" fill="none" stroke="#222" stroke-width="0.9" stroke-dasharray="5 1.5"/>
<line x1="-26.50" y1="26.50" x2="25.00" y2="26.50" stroke="#222" stroke-width="0.9" stroke-dasharray="8 2 1.5 2"/>
</g>
<line x1="352.40" y1="260.90" x2="352.40" y2="407.20" stroke="#222" stroke-width="0.9" stroke-dasharray="9 2.5 2 2.5"/>
<line x1="337.40" y1="284.10" x2="365.90" y2="284.10" stroke="#222" stroke-width="0.8" stroke-dasharray="8 2.5 2 2.5"/>
<line x1="337.40" y1="303.70" x2="365.90" y2="303.70" stroke="#222" stroke-width="0.8" stroke-dasharray="8 2.5 2 2.5"/>
<line x1="337.40" y1="322.90" x2="365.90" y2="322.90" stroke="#222" stroke-width="0.8" stroke-dasharray="8 2.5 2 2.5"/>
<line x1="361.90" y1="280.50" x2="388.00" y2="280.50" stroke="#222" stroke-width="0.9"/>
<line x1="361.90" y1="287.70" x2="388.00" y2="287.70" stroke="#222" stroke-width="0.9"/>
<line x1="385.60" y1="259.00" x2="385.60" y2="310.00" stroke="#222" stroke-width="0.9"/>
<polygon points="385.60,280.50 383.60,269.00 387.60,269.00" fill="#0a0a0a"/>
<polygon points="385.60,287.70 387.60,299.20 383.60,299.20" fill="#0a0a0a"/>
<text x="379.60" y="284.40" font-size="12.8" text-anchor="middle" font-weight="normal" stroke="#000" stroke-width="0.45" textLength="22.5" lengthAdjust="spacingAndGlyphs" transform="rotate(-90 379.60 284.40)">Ø4.3</text>
<line x1="327.00" y1="296.70" x2="342.90" y2="296.70" stroke="#222" stroke-width="0.9"/>
<line x1="327.00" y1="310.40" x2="342.90" y2="310.40" stroke="#222" stroke-width="0.9"/>
<line x1="329.80" y1="275.50" x2="329.80" y2="329.50" stroke="#222" stroke-width="0.9"/>
<polygon points="329.80,296.70 327.80,285.20 331.80,285.20" fill="#0a0a0a"/>
<polygon points="329.80,310.40 331.80,321.90 327.80,321.90" fill="#0a0a0a"/>
<text x="325.40" y="303.50" font-size="12.8" text-anchor="middle" font-weight="normal" stroke="#000" stroke-width="0.45" textLength="22.5" lengthAdjust="spacingAndGlyphs" transform="rotate(-90 325.40 303.50)">Ø6.2</text>
<g transform="translate(456.80 268.70)">
<rect x="-32.9" y="103.2" width="65.8" height="3.6" fill="#8a8a8a" opacity="0" />
<path d="M-34.5 34.5 A34.5 34.5 0 0 1 34.5 34.5 L34.5 107.6 A23.5 26.5 0 0 1 11.0 134.1 L-11.0 134.1 A23.5 26.5 0 0 1 -34.5 107.6 Z" fill="none" stroke="#0a0a0a" stroke-width="1.5"/>
<path d="M-32.8 32.5 L-32.8 34.5 A32.8 32.8 0 0 1 32.8 34.5 L32.8 107.6 A21.8 24.8 0 0 1 11.0 132.4 L-11.0 132.4 A21.8 24.8 0 0 1 -32.8 107.6 L-32.8 34.5" fill="none" stroke="#222" stroke-width="0.7"/>
<line x1="-34.50" y1="67.00" x2="34.50" y2="67.00" stroke="#0a0a0a" stroke-width="1.3"/>
<line x1="-34.50" y1="76.80" x2="34.50" y2="76.80" stroke="#0a0a0a" stroke-width="2.2"/>
<line x1="-33.60" y1="80.40" x2="33.50" y2="80.40" stroke="#999" stroke-width="0.9" stroke-dasharray="9 5"/>
<line x1="-33.60" y1="84.10" x2="33.50" y2="84.10" stroke="#0a0a0a" stroke-width="1.0" stroke-dasharray="9 5"/>
<line x1="-33.60" y1="100.10" x2="33.50" y2="100.10" stroke="#0a0a0a" stroke-width="1.0" stroke-dasharray="9 5"/>
<line x1="-33.60" y1="105.10" x2="33.50" y2="105.10" stroke="#8c8c8c" stroke-width="3.4" stroke-dasharray="9 5"/>
<circle cx="0.00" cy="118.40" r="10.40" fill="none" stroke="#0a0a0a" stroke-width="1.2"/>
<circle cx="0.00" cy="118.40" r="8.60" fill="none" stroke="#222" stroke-width="0.8"/>
<circle cx="0.00" cy="118.40" r="5.60" fill="none" stroke="#0a0a0a" stroke-width="1.0"/>
<polygon points="3.72,120.55 0.00,122.70 -3.72,120.55 -3.72,116.25 -0.00,114.10 3.72,116.25" fill="none" stroke="#222" stroke-width="0.8"/>
<line x1="-17.50" y1="118.40" x2="19.00" y2="118.40" stroke="#222" stroke-width="0.7" stroke-dasharray="8 2 1.5 2"/>
</g>
<circle cx="456.80" cy="303.20" r="7.50" fill="none" stroke="#0a0a0a" stroke-width="1.5"/>
<circle cx="456.80" cy="284.00" r="4.30" fill="none" stroke="#0a0a0a" stroke-width="1.2"/>
<circle cx="456.80" cy="322.40" r="4.30" fill="none" stroke="#0a0a0a" stroke-width="1.2"/>
<circle cx="437.60" cy="303.20" r="4.30" fill="none" stroke="#0a0a0a" stroke-width="1.2"/>
<circle cx="476.00" cy="303.20" r="4.30" fill="none" stroke="#0a0a0a" stroke-width="1.2"/>
<line x1="456.80" y1="260.90" x2="456.80" y2="416.40" stroke="#222" stroke-width="0.9" stroke-dasharray="9 2.5 2 2.5"/>
<line x1="421.00" y1="303.20" x2="494.00" y2="303.20" stroke="#222" stroke-width="0.9" stroke-dasharray="9 2.5 2 2.5"/>
<line x1="418.00" y1="360.20" x2="496.00" y2="360.20" stroke="#222" stroke-width="0.9" stroke-dasharray="9 2.5 2 2.5"/>
<line x1="437.60" y1="289.20" x2="437.60" y2="317.20" stroke="#222" stroke-width="0.8" stroke-dasharray="6 2 1.5 2"/>
<line x1="476.00" y1="289.20" x2="476.00" y2="317.20" stroke="#222" stroke-width="0.8" stroke-dasharray="6 2 1.5 2"/>
<line x1="444.80" y1="284.00" x2="468.80" y2="284.00" stroke="#222" stroke-width="0.8" stroke-dasharray="6 2 1.5 2"/>
<line x1="444.80" y1="322.40" x2="468.80" y2="322.40" stroke="#222" stroke-width="0.8" stroke-dasharray="6 2 1.5 2"/>
<line x1="437.60" y1="252.50" x2="437.60" y2="293.20" stroke="#222" stroke-width="0.9"/>
<line x1="476.00" y1="252.50" x2="476.00" y2="293.20" stroke="#222" stroke-width="0.9"/>
<line x1="437.60" y1="255.40" x2="476.00" y2="255.40" stroke="#222" stroke-width="0.9"/>
<polygon points="437.60,255.40 449.10,253.40 449.10,257.40" fill="#0a0a0a"/>
<polygon points="476.00,255.40 464.50,257.40 464.50,253.40" fill="#0a0a0a"/>
<text x="457.30" y="251.60" font-size="12.8" text-anchor="middle" font-weight="normal" stroke="#000" stroke-width="0.45" textLength="11.5" lengthAdjust="spacingAndGlyphs">17</text>
<line x1="407.50" y1="284.00" x2="446.80" y2="284.00" stroke="#222" stroke-width="0.9"/>
<line x1="407.50" y1="322.40" x2="446.80" y2="322.40" stroke="#222" stroke-width="0.9"/>
<line x1="410.00" y1="284.00" x2="410.00" y2="322.40" stroke="#222" stroke-width="0.9"/>
<polygon points="410.00,284.00 412.00,295.50 408.00,295.50" fill="#0a0a0a"/>
<polygon points="410.00,322.40 408.00,310.90 412.00,310.90" fill="#0a0a0a"/>
<text x="405.20" y="302.30" font-size="12.8" text-anchor="middle" font-weight="normal" stroke="#000" stroke-width="0.45" textLength="11.5" lengthAdjust="spacingAndGlyphs" transform="rotate(-90 405.20 302.30)">17</text>
<rect x="560.70" y="272.90" width="19.00" height="63.00" fill="url(#hx)"/>
<path d="M560.7 335.6 L560.7 270.7 Q560.7 268.7 562.7 268.7 L577.7 268.7 Q579.7 268.7 579.7 270.7 L579.7 335.6" fill="none" stroke="#0a0a0a" stroke-width="1.5"/>
<line x1="560.70" y1="270.50" x2="579.70" y2="270.50" stroke="#0a0a0a" stroke-width="0.8"/>
<rect x="560.7" y="298.6" width="15" height="10.4" fill="#fff" stroke="#0a0a0a" stroke-width="1.2"/>
<line x1="560.70" y1="301.20" x2="575.70" y2="301.20" stroke="#0a0a0a" stroke-width="0.8"/>
<line x1="560.70" y1="306.40" x2="575.70" y2="306.40" stroke="#0a0a0a" stroke-width="0.8"/>
<g transform="translate(570.20 360.70)">
<path d="M-9.5 -26.5 L-9.5 -25.6 L-24.2 -14.4 L-22.3 39.5 Q-22.1 42.7 -19.2 42.7" fill="none" stroke="#0a0a0a" stroke-width="1.2"/>
<path d="M9.5 -26.5 L9.5 -25.6 L24.2 -14.4 L22.3 39.5 Q22.1 42.7 19.2 42.7" fill="none" stroke="#0a0a0a" stroke-width="1.2"/>
<rect x="-2.3" y="15" width="4.6" height="27.7" fill="#b8b8b8"/>
<path d="M-2.3 42.7 L-2.3 16.6 Q-2.3 14.0 -5.10 13.47 L-5.10 13.47 A14.4 14.4 0 0 1 -7.96 12.00 L-12.0 12.0 L-12.0 7.96 A14.4 14.4 0 0 1 -12.0 -7.96 L-12.0 -12.0 L-7.96 -12.0 A14.4 14.4 0 0 1 7.96 -12.0 L12.0 -12.0 L12.0 -7.96 A14.4 14.4 0 0 1 12.0 7.96 L12.0 12.0 L7.96 12.0 A14.4 14.4 0 0 1 5.10 13.47 Q2.3 14.0 2.3 16.6 L2.3 42.7" fill="none" stroke="#0a0a0a" stroke-width="1.5"/>
<path d="M-8.3 -24.3 L-22.1 -13.3 L-20.9 40.0 Q-20.8 42.7 -18.3 42.7 L-4.8 42.7 Q-2.3 42.7 -2.3 40.4" fill="none" stroke="#0a0a0a" stroke-width="1.4"/>
<path d="M8.3 -24.3 L22.1 -13.3 L20.9 40.0 Q20.8 42.7 18.3 42.7 L4.8 42.7 Q2.3 42.7 2.3 40.4" fill="none" stroke="#0a0a0a" stroke-width="1.4"/>
<line x1="-23.60" y1="0.00" x2="-14.40" y2="0.00" stroke="#0a0a0a" stroke-width="1.1"/>
<line x1="14.40" y1="0.00" x2="23.60" y2="0.00" stroke="#0a0a0a" stroke-width="1.1"/>
<line x1="-13.40" y1="0.00" x2="13.40" y2="0.00" stroke="#222" stroke-width="0.9" stroke-dasharray="4 2.5"/>
<path d="M-21.4 16.9 L-9.8 16.9 L-9.8 35.5 L-21.2 35.5" fill="none" stroke="#222" stroke-width="0.9" stroke-dasharray="7 1.5"/>
<path d="M-9.8 20.3 L-2.3 20.3 M-9.8 32.2 L-2.3 32.2" fill="none" stroke="#222" stroke-width="0.9" stroke-dasharray="5 1.5"/>
<path d="M21.3 18.1 L11.6 18.1 L11.6 35.2 L21.1 35.2" fill="none" stroke="#222" stroke-width="0.9" stroke-dasharray="7 1.5"/>
<path d="M2.3 20.3 L11.6 20.3 M2.3 32.2 L11.6 32.2" fill="none" stroke="#222" stroke-width="0.9" stroke-dasharray="5 1.5"/>
<line x1="-26.50" y1="26.50" x2="25.00" y2="26.50" stroke="#222" stroke-width="0.9" stroke-dasharray="8 2 1.5 2"/>
</g>
<line x1="570.20" y1="260.90" x2="570.20" y2="407.20" stroke="#222" stroke-width="0.9" stroke-dasharray="9 2.5 2 2.5"/>
<line x1="554.20" y1="303.80" x2="583.20" y2="303.80" stroke="#222" stroke-width="0.8" stroke-dasharray="8 2.5 2 2.5"/>
<g transform="translate(661.50 268.70)">
<rect x="-32.9" y="103.2" width="65.8" height="3.6" fill="#8a8a8a" opacity="0" />
<path d="M-34.5 34.5 A34.5 34.5 0 0 1 34.5 34.5 L34.5 107.6 A23.5 26.5 0 0 1 11.0 134.1 L-11.0 134.1 A23.5 26.5 0 0 1 -34.5 107.6 Z" fill="none" stroke="#0a0a0a" stroke-width="1.5"/>
<path d="M-32.8 32.5 L-32.8 34.5 A32.8 32.8 0 0 1 32.8 34.5 L32.8 107.6 A21.8 24.8 0 0 1 11.0 132.4 L-11.0 132.4 A21.8 24.8 0 0 1 -32.8 107.6 L-32.8 34.5" fill="none" stroke="#222" stroke-width="0.7"/>
<line x1="-34.50" y1="67.00" x2="34.50" y2="67.00" stroke="#0a0a0a" stroke-width="1.3"/>
<line x1="-34.50" y1="76.80" x2="34.50" y2="76.80" stroke="#0a0a0a" stroke-width="2.2"/>
<line x1="-33.60" y1="80.40" x2="33.50" y2="80.40" stroke="#999" stroke-width="0.9" stroke-dasharray="9 5"/>
<line x1="-33.60" y1="84.10" x2="33.50" y2="84.10" stroke="#0a0a0a" stroke-width="1.0" stroke-dasharray="9 5"/>
<line x1="-33.60" y1="100.10" x2="33.50" y2="100.10" stroke="#0a0a0a" stroke-width="1.0" stroke-dasharray="9 5"/>
<line x1="-33.60" y1="105.10" x2="33.50" y2="105.10" stroke="#8c8c8c" stroke-width="3.4" stroke-dasharray="9 5"/>
<circle cx="0.00" cy="118.40" r="10.40" fill="none" stroke="#0a0a0a" stroke-width="1.2"/>
<circle cx="0.00" cy="118.40" r="8.60" fill="none" stroke="#222" stroke-width="0.8"/>
<circle cx="0.00" cy="118.40" r="5.60" fill="none" stroke="#0a0a0a" stroke-width="1.0"/>
<polygon points="3.72,120.55 0.00,122.70 -3.72,120.55 -3.72,116.25 -0.00,114.10 3.72,116.25" fill="none" stroke="#222" stroke-width="0.8"/>
<line x1="-17.50" y1="118.40" x2="19.00" y2="118.40" stroke="#222" stroke-width="0.7" stroke-dasharray="8 2 1.5 2"/>
</g>
<polygon points="667.56,307.30 661.50,310.80 655.44,307.30 655.44,300.30 661.50,296.80 667.56,300.30" fill="none" stroke="#0a0a0a" stroke-width="1.3"/>
<line x1="661.50" y1="260.90" x2="661.50" y2="416.40" stroke="#222" stroke-width="0.9" stroke-dasharray="9 2.5 2 2.5"/>
<line x1="623.00" y1="303.80" x2="700.00" y2="303.80" stroke="#222" stroke-width="0.9" stroke-dasharray="9 2.5 2 2.5"/>
<line x1="623.00" y1="360.20" x2="700.00" y2="360.20" stroke="#222" stroke-width="0.9" stroke-dasharray="9 2.5 2 2.5"/>
<text x="180.6" y="199.6" font-size="14" font-weight="bold" textLength="40.4" lengthAdjust="spacingAndGlyphs">MSX-TA</text>
<text x="389.8" y="199.6" font-size="14" font-weight="bold" textLength="39.6" lengthAdjust="spacingAndGlyphs">MSX-TB</text>
<text x="592.6" y="199.6" font-size="14" font-weight="bold" textLength="40.4" lengthAdjust="spacingAndGlyphs">MSX-TC</text>
<text x="179.8" y="440.8" font-size="14" font-weight="bold" textLength="40.0" lengthAdjust="spacingAndGlyphs">MSX-TD</text>
<text x="389.2" y="440.8" font-size="14" font-weight="bold" textLength="39.2" lengthAdjust="spacingAndGlyphs">MSX-TE</text>
<text x="596.4" y="440.8" font-size="14" font-weight="bold" textLength="38.8" lengthAdjust="spacingAndGlyphs">MSX-TF</text>
</svg>
</body></html>
